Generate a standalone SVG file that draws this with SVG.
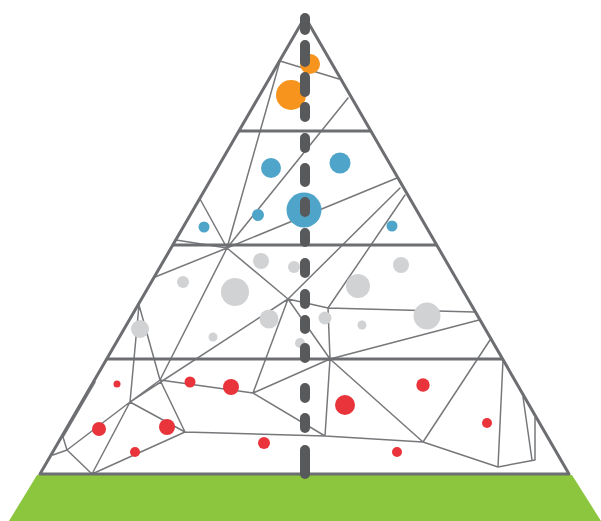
<svg xmlns="http://www.w3.org/2000/svg" width="601" height="521" viewBox="0 0 601 521">
<style>
.net{stroke:#77787b;stroke-width:1.5;fill:none;stroke-linecap:round}
.frame{stroke:#6d6e71;stroke-width:3;fill:none;stroke-linejoin:round}
.band{stroke:#6d6e71;stroke-width:3}
.o{fill:#f7941d}.b{fill:#4fa5c9}.g{fill:#d1d2d4}.r{fill:#e8343a}
.dash{stroke:#58595b;stroke-width:10;stroke-linecap:round;fill:none}
</style>
<rect width="601" height="521" fill="#ffffff"/>
<g id="ground"><polygon points="37,475 572,475 601,521 9,521" fill="#8cc63f"/></g>
<g id="connectors">
<path class="net" d="M280,61L339,79 M280,61L227,248 M348,98L227,248
M200,199L227,248 M176,240L227,248 M397,178L227,248 M400,188L288,299 M405,195L328,308
M227,248L155,277 M227,248L288,299 M227,248L160,380 M288,299L130,402 M288,299L253,393 M288,299L328,308 M288,299L330,359 M328,308L330,359 M328,308L474,312 M330,359L479,320 M139,305L130,402 M139,305L160,380
M160,380L130,402 M160,380L185,432 M160,380L253,393 M130,402L185,432 M130,402L92,474 M130,402L67,450 M92,474L185,432 M92,474L67,450 M67,450L53,455 M67,450L63,437 M63,437L95,382
M253,393L330,359 M253,393L325,436 M185,432L325,436 M325,436L423,442 M330,359L325,436 M330,359L423,442 M490,340L423,442 M423,442L498,467 M503,360L498,467 M498,467L535,460 M523,397L532,460 M535,418L535,460"/>
</g>
<g id="pyramid">
<polygon class="frame" points="305,17 40,474 569,474"/>
<line class="band" x1="239" y1="131" x2="370" y2="131"/>
<line class="band" x1="173" y1="245" x2="437" y2="245"/>
<line class="band" x1="107" y1="359" x2="503" y2="359"/>
</g>
<g id="tier1">
<circle class="o" cx="310" cy="64" r="10"/>
<circle class="o" cx="291" cy="95" r="15"/>
</g>
<g id="tier2">
<circle class="b" cx="271" cy="168" r="10"/>
<circle class="b" cx="340" cy="163" r="10.5"/>
<circle class="b" cx="304" cy="210" r="17.5"/>
<circle class="b" cx="258" cy="215" r="6"/>
<circle class="b" cx="204" cy="227" r="5.5"/>
<circle class="b" cx="392" cy="226" r="5.5"/>
</g>
<g id="tier3">
<circle class="g" cx="261" cy="261" r="8"/>
<circle class="g" cx="294" cy="267" r="6"/>
<circle class="g" cx="183" cy="282" r="6"/>
<circle class="g" cx="235" cy="292" r="14"/>
<circle class="g" cx="269" cy="319" r="9.5"/>
<circle class="g" cx="213" cy="337" r="4.5"/>
<circle class="g" cx="140" cy="329" r="9"/>
<circle class="g" cx="401" cy="265" r="8"/>
<circle class="g" cx="358" cy="286" r="12"/>
<circle class="g" cx="427" cy="316" r="13.5"/>
<circle class="g" cx="325" cy="318" r="6.5"/>
<circle class="g" cx="362" cy="325" r="4.5"/>
<circle class="g" cx="300" cy="343" r="5"/>
</g>
<g id="tier4">
<circle class="r" cx="117" cy="384" r="3.5"/>
<circle class="r" cx="190" cy="382" r="5.5"/>
<circle class="r" cx="231" cy="387" r="8"/>
<circle class="r" cx="99" cy="429" r="7"/>
<circle class="r" cx="167" cy="427" r="8"/>
<circle class="r" cx="135" cy="452" r="5"/>
<circle class="r" cx="264" cy="443" r="6"/>
<circle class="r" cx="423" cy="385" r="6.7"/>
<circle class="r" cx="345" cy="405" r="10"/>
<circle class="r" cx="487" cy="423" r="5"/>
<circle class="r" cx="397" cy="452" r="5"/>
</g>
<g id="axis">
<path class="dash" d="M305,18V30 M305,45V62 M305,77V92 M305,107V117 M305,138V148 M305,168V182 M305,202V212 M305,233V242 M305,263V273 M305,294V304 M305,320V329 M305,348V358 M305,388V398 M305,418V428 M305,450V474"/>
</g>
</svg>
